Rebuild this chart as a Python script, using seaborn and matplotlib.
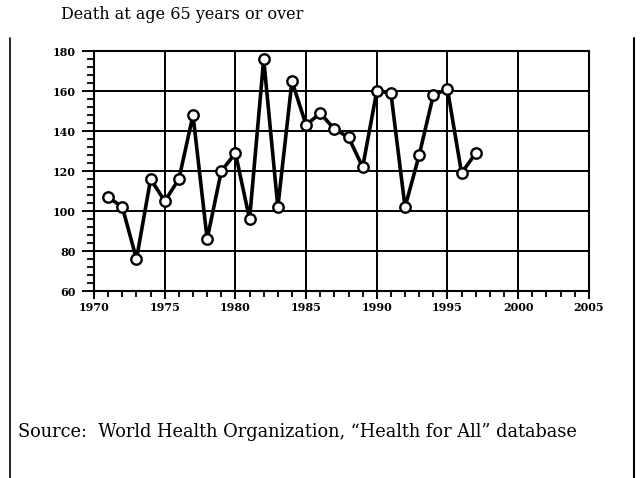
import numpy as np
import pandas as pd
import matplotlib
matplotlib.use('Agg')
import matplotlib.pyplot as plt
from matplotlib.ticker import MultipleLocator
from matplotlib.lines import Line2D
import seaborn as sns

# values
years = list(range(1971, 1998))
deaths = [107, 102, 76, 116, 105, 116, 148, 86, 120, 129, 96, 176, 102, 165,
          143, 149, 141, 137, 122, 160, 159, 102, 128, 158, 161, 119, 129]
title = "Death at age 65 years or over"
source = "Source:  World Health Organization, \u201cHealth for All\u201d database"

df = pd.DataFrame({'year': years, 'deaths': deaths})

sns.set_style('white')
plt.rcParams['font.family'] = ['DejaVu Serif', 'Liberation Serif']
plt.rcParams['text.color'] = 'black'

fig = plt.figure(figsize=(6.4, 4.78), dpi=100)
ax = fig.add_axes([0.147, 0.391, 0.773, 0.502])

sns.lineplot(data=df, x='year', y='deaths', ax=ax, color='black', linewidth=2.6,
             marker='o', markersize=7.5, markerfacecolor='white',
             markeredgecolor='black', markeredgewidth=1.7, zorder=5)

ax.set_xlim(1970, 2005)
ax.set_ylim(60, 180)
ax.xaxis.set_major_locator(MultipleLocator(5))
ax.xaxis.set_minor_locator(MultipleLocator(1))
ax.yaxis.set_major_locator(MultipleLocator(20))
ax.yaxis.set_minor_locator(MultipleLocator(4))
ax.grid(True, which='major', color='black', linewidth=1.4)

# ticks point outward, y ticks longer than x ticks
ax.tick_params(axis='x', which='major', direction='out', length=6, width=1.4,
               colors='black', labelsize=8, pad=2, bottom=True)
ax.tick_params(axis='x', which='minor', direction='out', length=4.5, width=1.3,
               colors='black', bottom=True)
ax.tick_params(axis='y', which='major', direction='out', length=8.5, width=1.4,
               colors='black', labelsize=8, pad=5, left=True)
ax.tick_params(axis='y', which='minor', direction='out', length=5, width=1.3,
               colors='black', left=True)
for lab in ax.get_xticklabels() + ax.get_yticklabels():
    lab.set_fontweight('bold')
for sp in ax.spines.values():
    sp.set_color('black')
    sp.set_linewidth(1.5)
ax.set_xlabel('')
ax.set_ylabel('')

fig.text(0.096, 0.969, title, fontsize=11.5, ha='left', va='center', color='black')
fig.text(0.028, 0.097, source, fontsize=12.8, ha='left', va='center', color='black')

# scanned page frame lines
fig.add_artist(Line2D([0.016, 0.016], [0.0, 0.92], color='black', lw=1.2))
fig.add_artist(Line2D([0.991, 0.991], [0.0, 0.92], color='black', lw=1.5))

fig.savefig('out.png', dpi=100, facecolor='white')
